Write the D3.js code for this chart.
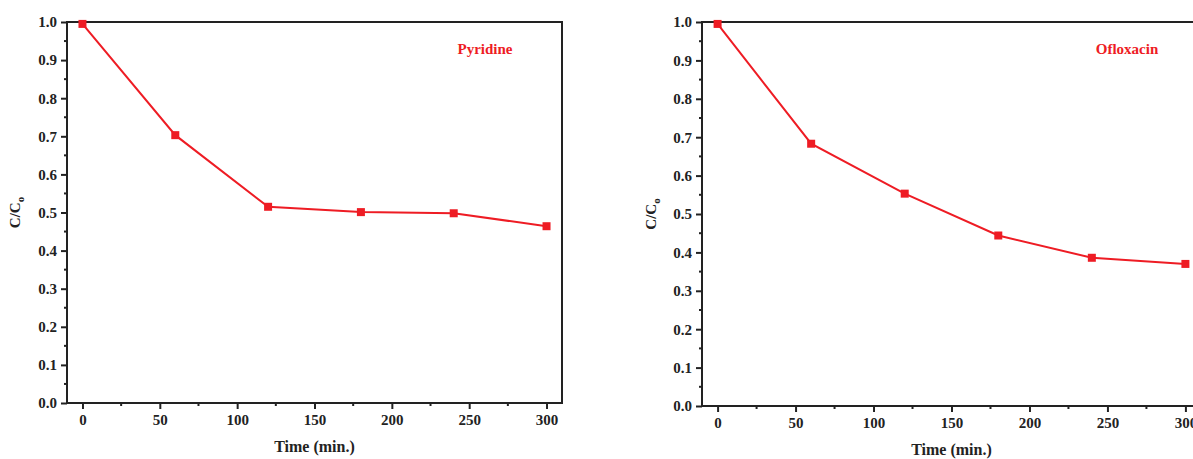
<!DOCTYPE html>
<html>
<head>
<meta charset="utf-8">
<script src="https://cdn.jsdelivr.net/npm/d3@7"></script>
<style>
  body { margin: 0; background: #fff; }
  svg text { font-family: "Liberation Serif", "Times New Roman", serif; font-weight: bold; }
</style>
</head>
<body>
<svg id="chart" width="1193" height="459"></svg>
<script>
const times = [0, 60, 120, 180, 240, 300];
const pyridine = [0.995, 0.703, 0.515, 0.501, 0.498, 0.464];
const ofloxacin = [0.995, 0.683, 0.553, 0.444, 0.386, 0.370];
const xTicks = [0, 50, 100, 150, 200, 250, 300];
const yTicks = [0, 0.1, 0.2, 0.3, 0.4, 0.5, 0.6, 0.7, 0.8, 0.9, 1.0];

const svg = d3.select("#chart");
const red = "#ee1c24";
const ink = "#222";

const panels = [
  { name: "Pyridine", values: pyridine, left: 67, right: 562, top: 22, bottom: 403,
    labelX: 485, yLabelX: 20 },
  { name: "Ofloxacin", values: ofloxacin, left: 702, right: 1201, top: 22, bottom: 406,
    labelX: 1127, yLabelX: 656 }
];

panels.forEach(p => {
  const x = d3.scaleLinear().domain([-10, 310]).range([p.left, p.right]);
  const y = d3.scaleLinear().domain([0, 1]).range([p.bottom, p.top]);
  const g = svg.append("g");

  // minor ticks
  g.selectAll(".mx").data(d3.range(25, 300, 50)).enter().append("line")
    .attr("x1", d => x(d)).attr("x2", d => x(d))
    .attr("y1", p.bottom).attr("y2", p.bottom + 3)
    .attr("stroke", ink).attr("stroke-width", 2);
  g.selectAll(".my").data(d3.range(0.05, 1, 0.1)).enter().append("line")
    .attr("x1", p.left - 3).attr("x2", p.left)
    .attr("y1", d => y(d)).attr("y2", d => y(d))
    .attr("stroke", ink).attr("stroke-width", 2);

  const xAxis = d3.axisBottom(x).tickValues(xTicks).tickSize(6).tickPadding(5).tickFormat(d3.format("d"));
  const yAxis = d3.axisLeft(y).tickValues(yTicks).tickSize(6).tickPadding(4).tickFormat(d3.format(".1f"));

  const gx = g.append("g").attr("transform", `translate(0,${p.bottom})`).call(xAxis);
  const gy = g.append("g").attr("transform", `translate(${p.left},0)`).call(yAxis);
  [gx, gy].forEach(a => {
    a.select(".domain").remove();
    a.selectAll("line").attr("stroke", ink).attr("stroke-width", 2);
    a.selectAll("text").attr("fill", ink).style("font-size", "15px")
      .style("font-family", "'Liberation Serif', serif").style("font-weight", "bold");
  });

  // frame
  g.append("rect")
    .attr("x", p.left).attr("y", p.top)
    .attr("width", p.right - p.left).attr("height", p.bottom - p.top)
    .attr("fill", "none").attr("stroke", ink).attr("stroke-width", 2);

  const pts = times.map((t, i) => [t, p.values[i]]);
  const line = d3.line().x(d => x(d[0])).y(d => y(d[1]));
  g.append("path").datum(pts).attr("d", line)
    .attr("fill", "none").attr("stroke", red).attr("stroke-width", 2);
  g.selectAll(".pt").data(pts).enter().append("rect")
    .attr("x", d => x(d[0]) - 4).attr("y", d => y(d[1]) - 4)
    .attr("width", 8).attr("height", 8).attr("fill", red);

  g.append("text").attr("x", p.labelX).attr("y", 54)
    .attr("text-anchor", "middle").attr("fill", red).style("font-size", "15px")
    .text(p.name);

  g.append("text")
    .attr("x", (x(0) + x(300)) / 2).attr("y", p.bottom + 49)
    .attr("text-anchor", "middle").attr("fill", ink).style("font-size", "16px")
    .text("Time (min.)");

  const yl = g.append("text")
    .attr("transform", `translate(${p.yLabelX},${(p.top + p.bottom) / 2}) rotate(-90)`)
    .attr("text-anchor", "middle").attr("fill", ink).style("font-size", "15px");
  yl.append("tspan").text("C/C");
  yl.append("tspan").attr("dy", 4).style("font-size", "11px").text("o");
});
</script>
</body>
</html>
